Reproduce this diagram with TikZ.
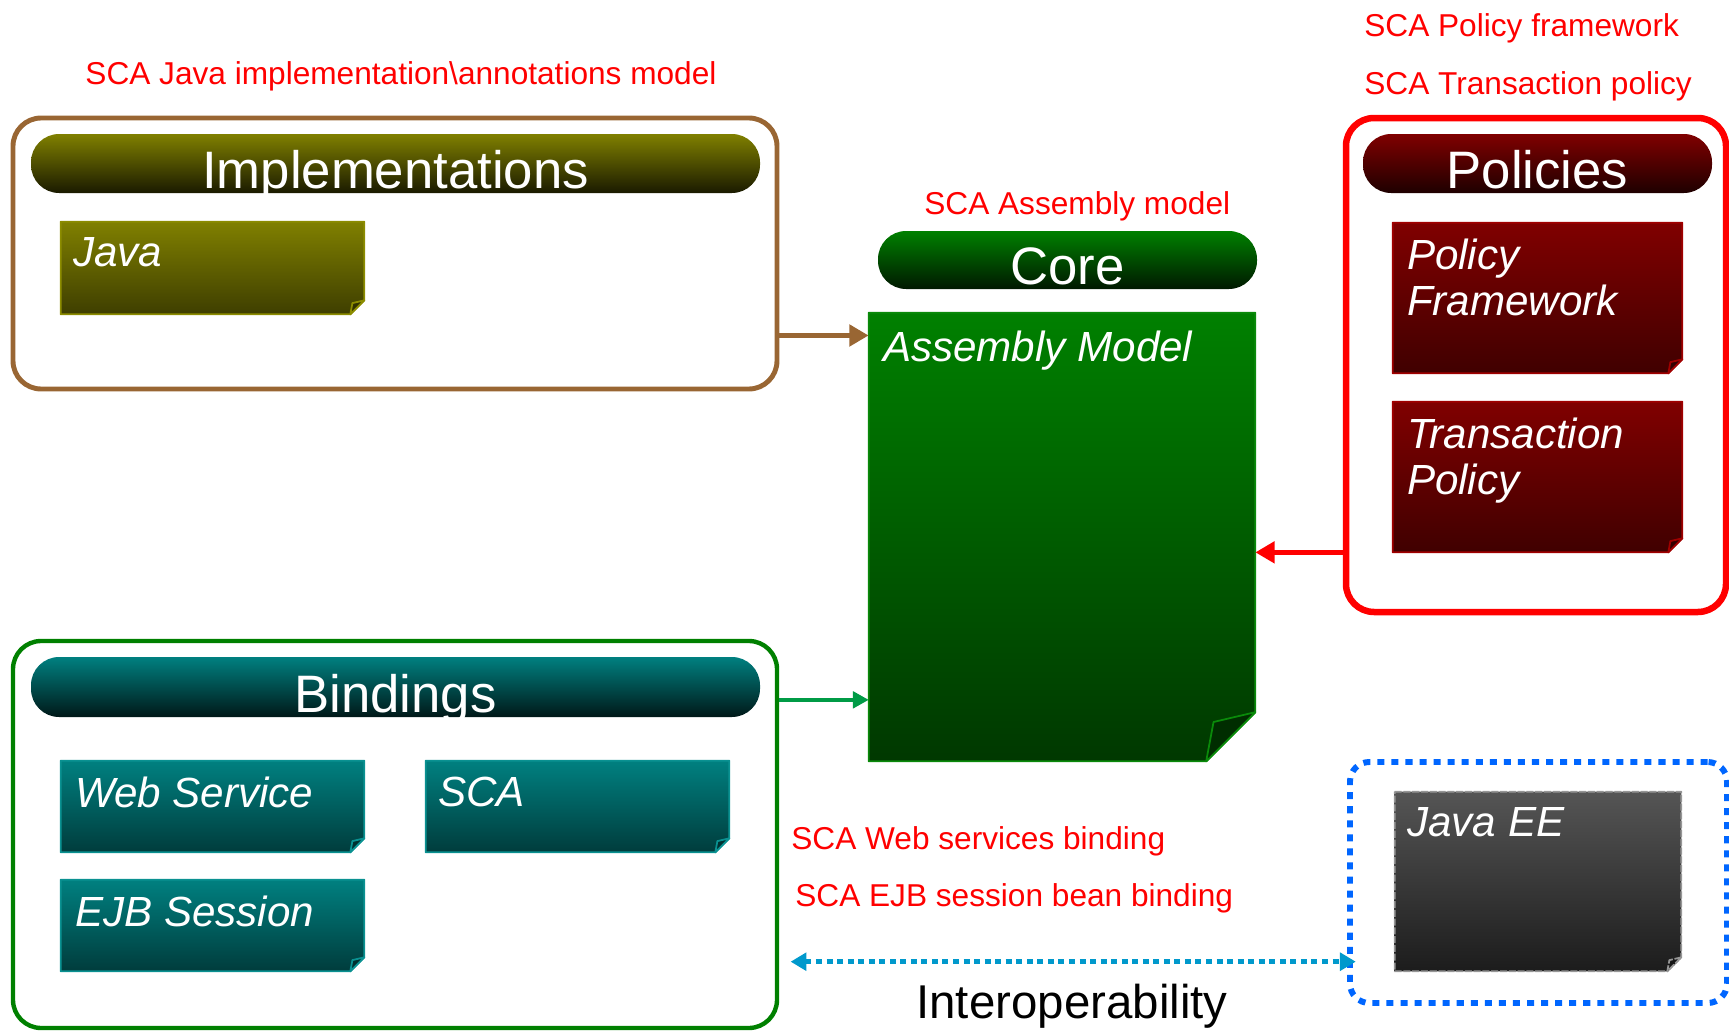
\documentclass[tikz,border=0pt]{standalone}
\usepackage{fontspec}
\setmainfont{Liberation Sans}
\usetikzlibrary{arrows.meta,positioning,fit}
\definecolor{implbrown}{RGB}{153,102,51}
\definecolor{oliveA}{RGB}{128,128,0}
\definecolor{oliveB}{RGB}{26,26,0}
\definecolor{oliveC}{RGB}{62,62,0}
\definecolor{oliveE}{RGB}{140,140,0}
\definecolor{coreA}{RGB}{0,128,0}
\definecolor{coreB}{RGB}{0,24,0}
\definecolor{coreC}{RGB}{0,56,0}
\definecolor{coreE}{RGB}{10,138,10}
\definecolor{polA}{RGB}{128,0,0}
\definecolor{polB}{RGB}{30,0,0}
\definecolor{polC}{RGB}{64,0,0}
\definecolor{polE}{RGB}{160,0,0}
\definecolor{bindA}{RGB}{0,128,128}
\definecolor{bindB}{RGB}{0,24,24}
\definecolor{bindC}{RGB}{0,60,60}
\definecolor{bindE}{RGB}{10,145,145}
\definecolor{jeeA}{RGB}{85,85,85}
\definecolor{jeeC}{RGB}{28,28,28}
\definecolor{jeeE}{RGB}{150,150,150}
\definecolor{bindgreen}{RGB}{0,128,0}
\definecolor{bindarrow}{RGB}{0,155,70}
\definecolor{ioblue}{RGB}{0,153,204}
\definecolor{jeeblue}{RGB}{0,102,255}
\begin{document}
\begin{tikzpicture}[x=0.02cm, y=-0.02cm, line join=round,
	outer/.style={draw, rectangle, rounded corners=16pt, inner sep=0pt},
	bar/.style={rectangle, rounded corners=16pt, inner sep=0pt},
	title/.style={inner sep=0pt, anchor=base, text=white, font=\fontsize{30}{36}\selectfont},
	slot/.style={rectangle, inner sep=0pt},
	boxname/.style={inner sep=0pt, text=white, align=left, font=\fontsize{24}{26.5}\selectfont\itshape},
	note/.style={red, inner sep=0pt, font=\fontsize{18}{22}\selectfont},
	implarrow/.style={draw=implbrown, line width=3pt, -{Triangle[length=11pt,width=12pt]}},
	bindlink/.style={draw=bindarrow, line width=1.9pt, -{Triangle[length=9pt,width=9.5pt]}},
	polarrow/.style={draw=red, line width=3.2pt, -{Triangle[length=11pt,width=12pt]}},
	interop/.style={draw=ioblue, line width=2.5pt, dash pattern=on 3.4pt off 2.6pt, {Triangle[length=9pt,width=10pt]}-{Triangle[length=9pt,width=10pt]}}]
	\def\foldbox#1#2#3#4#5{%
		\path[#4, line width=1pt, top color=#2, bottom color=#3]
			(#1.north west) -- (#1.north east) -- ([yshift=#5]#1.south east)
			-- ([xshift=-#5]#1.south east) -- (#1.south west) -- cycle;
		\path[#4, line width=1pt, fill=#3!80!black]
			([yshift=#5]#1.south east) -- ([xshift=-0.85*#5, yshift=0.8*#5]#1.south east)
			-- ([xshift=-#5]#1.south east) -- cycle;}
	\useasboundingbox (0,0) rectangle (1729,1031);

	\node[outer, draw=implbrown, line width=2.8pt, fit={(13,118) (777,389)}] (impl) {};
	\node[outer, draw=red, line width=3.7pt, fit={(1346,118) (1726,612)}] (pol) {};
	\node[outer, draw=bindgreen, line width=2.5pt, fit={(13,641) (777,1028)}] (bind) {};
	\node[outer, draw=jeeblue, line width=3.4pt, rounded corners=11pt, dash pattern=on 4pt off 4pt, fit={(1350,762) (1727,1003)}] (jee) {};

	\node[bar, top color=oliveA, bottom color=oliveB, fit={(31,134) (760,193)}] (implbar) {};
	\node[bar, top color=coreA, bottom color=coreB, fit={(878,231) (1257,289)}] (corebar) {};
	\node[bar, top color=polA, bottom color=polB, fit={(1363,134) (1712,193)}] (polbar) {};
	\node[bar, top color=bindA, bottom color=bindB, fit={(31,657) (760,717)}] (bindbar) {};
	\node[title] (impltitle) at ([yshift=2.8pt]implbar.south) {Implementations};
	\node[title] (coretitle) at ([yshift=2.6pt]corebar.south) {Core};
	\node[title] (poltitle) at ([yshift=2.8pt]polbar.south) {Policies};
	\node[title] (bindtitle) at ([yshift=2.8pt]bindbar.south) {Bindings};

	\node[slot, fit={(61,222) (364,314)}] (java) {};
	\node[slot, fit={(869,313) (1255,761)}] (asm) {};
	\node[slot, fit={(1393,223) (1682,373)}] (pf) {};
	\node[slot, fit={(1393,402) (1682,552)}] (tp) {};
	\node[slot, fit={(61,761) (364,852)}] (ws) {};
	\node[slot, fit={(426,761) (729,852)}] (sca) {};
	\node[slot, fit={(61,880) (364,971)}] (ejb) {};
	\node[slot, fit={(1395,792) (1681,971)}] (jeebox) {};

	\foldbox{java}{oliveA}{oliveC}{draw=oliveE}{8pt}
	\foldbox{asm}{coreA}{coreC}{draw=coreE, line width=2.6pt}{28pt}
	\foldbox{pf}{polA}{polC}{draw=polE}{8pt}
	\foldbox{tp}{polA}{polC}{draw=polE}{8pt}
	\foldbox{ws}{bindA}{bindC}{draw=bindE}{8pt}
	\foldbox{sca}{bindA}{bindC}{draw=bindE}{8pt}
	\foldbox{ejb}{bindA}{bindC}{draw=bindE}{8pt}
	\foldbox{jeebox}{jeeA}{jeeC}{draw=jeeE, dash pattern=on 4pt off 1pt}{8pt}

	\node[boxname, below right=9pt and 7pt of java.north west] (javatxt) {Java};
	\node[boxname, below right=10pt and 8pt of asm.north west] (asmtxt) {Assembly Model};
	\node[boxname, below right=9pt and 8pt of pf.north west] (pftxt) {Policy\\Framework};
	\node[boxname, below right=9pt and 8pt of tp.north west] (tptxt) {Transaction\\Policy};
	\node[boxname, below right=9pt and 8pt of ws.north west] (wstxt) {Web Service};
	\node[boxname, below right=9pt and 7pt of sca.north west] (scatxt) {SCA};
	\node[boxname, below right=9pt and 8pt of ejb.north west] (ejbtxt) {EJB Session};
	\node[boxname, below right=9pt and 7pt of jeebox.north west] (jeetxt) {Java EE};

	\node[note, anchor=base] (implnote) at (401,84) {SCA Java implementation\textbackslash annotations model};
	\node[note, anchor=base west] (pfnote) at (1364,36) {SCA Policy framework};
	\node[note, anchor=base west] (tpnote) at (1364,94) {SCA Transaction policy};
	\node[note, anchor=base west] (asmnote) at (924,214) {SCA Assembly model};
	\node[note, anchor=base west] (wsnote) at (791,849) {SCA Web services binding};
	\node[note, anchor=base west] (ejbnote) at (795,906) {SCA EJB session bean binding};
	\node[inner sep=0pt, anchor=base, font=\fontsize{27}{32}\selectfont] (iotxt) at (1072,1018) {Interoperability};

	\coordinate (implin) at ([yshift=-13pt]asm.north west);
	\coordinate (bindin) at ([yshift=35pt]asm.south west);
	\coordinate (io) at ([yshift=5.5pt]jeebox.south);
	\draw[implarrow] (impl.east |- implin) -- (implin);
	\draw[bindlink] (bind.east |- bindin) -- (bindin);
	\draw[polarrow] (pol.west |- tp.south) -- (asm.east |- tp.south);
	\draw[interop, shorten <=6.5pt, shorten >=-5pt] (bind.east |- io) -- (jee.west |- io);
\end{tikzpicture}
\end{document}
